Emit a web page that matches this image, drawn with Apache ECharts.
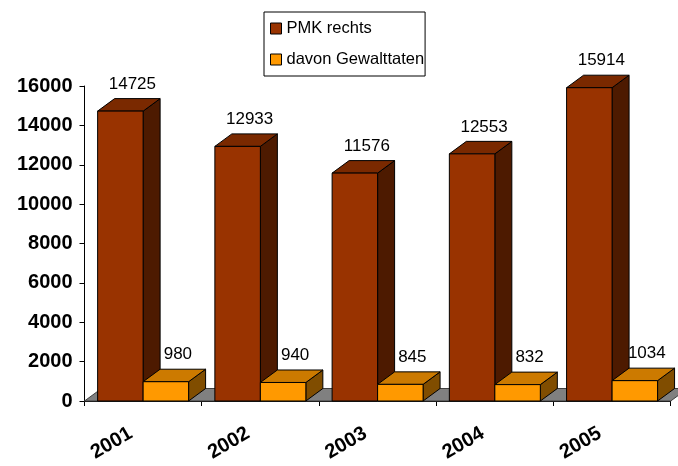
<!DOCTYPE html>
<html>
<head>
<meta charset="utf-8">
<script src="https://cdn.jsdelivr.net/npm/echarts@6/dist/echarts.min.js"></script>
<style>
  html, body { margin: 0; padding: 0; background: #fff; }
  #chart { width: 678px; height: 466px; }
</style>
</head>
<body>
<div id="chart"></div>
<script>
// Politisch motivierte Kriminalität (rechts) und davon Gewalttaten
const years = ['2001', '2002', '2003', '2004', '2005'];
const pmkRechts = [14725, 12933, 11576, 12553, 15914];
const gewalttaten = [980, 940, 845, 832, 1034];
const yMin = 0, yMax = 16000, yStep = 2000;

const DX = 17, DY = -12.5;          // depth offset of the 3D boxes
const BAR_FRAC = 0.388;             // box width as share of a category band
const FONT = '"Liberation Sans", Arial, sans-serif';

const red = { front: '#993300', top: '#7a2900', side: '#4d1a00' };
const orange = { front: '#ff9900', top: '#cc7a00', side: '#804d00' };

function pt(x, y) { return [x, y]; }

function boxSeries(name, values, side, colors) {
  return {
    type: 'custom',
    name: name,
    itemStyle: { color: colors.front },
    data: values.map((v, i) => [i, v]),
    encode: { x: 0, y: 1 },
    renderItem: function (params, api) {
      const i = api.value(0), v = api.value(1);
      const top = api.coord([i, v]);
      const base = api.coord([i, 0]);
      const w = api.size([1, 0])[0] * BAR_FRAC;
      const x0 = side < 0 ? top[0] - w : top[0];
      const x1 = x0 + w;
      const yt = top[1], yb = base[1];
      const edge = { stroke: '#000', lineWidth: 1 };
      return {
        type: 'group',
        children: [
          { type: 'polygon',
            shape: { points: [pt(x1, yt), pt(x1 + DX, yt + DY), pt(x1 + DX, yb + DY), pt(x1, yb)] },
            style: Object.assign({ fill: colors.side }, edge) },
          { type: 'polygon',
            shape: { points: [pt(x0, yt), pt(x0 + DX, yt + DY), pt(x1 + DX, yt + DY), pt(x1, yt)] },
            style: Object.assign({ fill: colors.top }, edge) },
          { type: 'rect',
            shape: { x: x0, y: yt, width: w, height: yb - yt },
            style: Object.assign({ fill: colors.front }, edge) },
          { type: 'text',
            x: (x0 + x1) / 2 + 12, y: yt + DY - 6,
            style: { text: String(v), align: 'center', verticalAlign: 'bottom',
                     fontSize: 17, fontFamily: FONT, fill: '#000' } }
        ]
      };
    }
  };
}

const floorSeries = {
  type: 'custom',
  name: 'floor',
  data: [[0, 0]],
  encode: { x: 0, y: 1 },
  silent: true,
  renderItem: function (params, api) {
    const cs = params.coordSys;
    const y0 = api.coord([0, 0])[1];
    const xl = cs.x, xr = cs.x + cs.width;
    return {
      type: 'polygon',
      shape: { points: [pt(xl, y0), pt(xr, y0), pt(xr + DX, y0 + DY), pt(xl + DX, y0 + DY)] },
      style: { fill: '#808080', stroke: '#404040', lineWidth: 1 }
    };
  }
};

const chart = echarts.init(document.getElementById('chart'), null, { renderer: 'canvas' });
chart.setOption({
  animation: false,
  backgroundColor: '#fff',
  grid: { left: 84.5, top: 86, width: 586.2, height: 315 },
  legend: {
    orient: 'vertical',
    left: 264, top: 12,
    padding: [8, 1, 8, 6],
    itemGap: 14,
    itemWidth: 11, itemHeight: 11,
    icon: 'rect',
    borderColor: '#000', borderWidth: 1,
    backgroundColor: '#fff',
    itemStyle: { borderColor: '#000', borderWidth: 1 },
    textStyle: { fontSize: 16.5, lineHeight: 16, fontFamily: FONT, color: '#000' },
    data: ['PMK rechts', 'davon Gewalttaten']
  },
  xAxis: {
    type: 'category',
    data: years,
    boundaryGap: true,
    axisLine: { show: true, lineStyle: { color: '#000', width: 1 } },
    axisTick: { show: true, length: 5, lineStyle: { color: '#000' } },
    axisLabel: {
      rotate: 30, margin: 24, padding: [0, 14, 0, 0],
      fontSize: 20, fontWeight: 'bold', fontFamily: FONT, color: '#000'
    },
    z: 0
  },
  yAxis: {
    type: 'value',
    min: yMin, max: yMax, interval: yStep,
    axisLine: { show: true, lineStyle: { color: '#000', width: 1 } },
    axisTick: { show: true, length: 5, lineStyle: { color: '#000' } },
    splitLine: { show: false },
    axisLabel: {
      margin: 12, fontSize: 20, fontWeight: 'bold', fontFamily: FONT, color: '#000',
      formatter: function (v) { return String(v); }
    }
  },
  series: [
    floorSeries,
    boxSeries('PMK rechts', pmkRechts, -1, red),
    boxSeries('davon Gewalttaten', gewalttaten, 1, orange)
  ]
});
</script>
</body>
</html>
